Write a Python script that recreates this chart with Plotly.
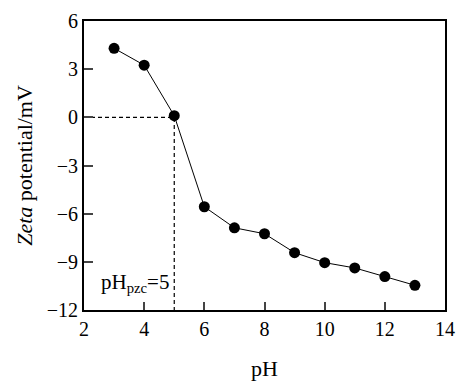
import plotly.graph_objects as go

ph = [3, 4, 5, 6, 7, 8, 9, 10, 11, 12, 13]
zeta = [4.3, 3.25, 0.1, -5.57, -6.88, -7.25, -8.43, -9.05, -9.38, -9.92, -10.46]
x_ticks = [2, 4, 6, 8, 10, 12, 14]
y_ticks = [-12, -9, -6, -3, 0, 3, 6]
ph_pzc = 5

font = dict(family="Liberation Serif", color="black")

fig = go.Figure()
fig.add_trace(go.Scatter(
    x=ph, y=zeta, mode="lines+markers",
    line=dict(color="black", width=1),
    marker=dict(color="black", size=11),
    showlegend=False,
))
# dashed guides for pH_pzc
fig.add_trace(go.Scatter(
    x=[2, ph_pzc, ph_pzc], y=[0, 0, -12], mode="lines",
    line=dict(color="black", width=1.2, dash="4px,3px"),
    showlegend=False, hoverinfo="skip",
))

fig.add_annotation(
    x=ph_pzc, y=-10.3, xref="x", yref="y", xanchor="right", yanchor="middle",
    xshift=-3, showarrow=False,
    text="pH<sub>pzc</sub>=5", font=dict(size=21, **font),
)

fig.update_xaxes(
    range=[2, 14], tickvals=x_ticks, ticks="inside", ticklen=8, tickwidth=1.8,
    showline=True, linecolor="black", linewidth=2, mirror=True,
    showgrid=False, zeroline=False, automargin=False,
    tickfont=dict(size=20, **font),
    title=dict(text="pH", font=dict(size=22, **font), standoff=22),
)
fig.update_yaxes(
    range=[-12, 6], tickvals=y_ticks, ticks="inside", ticklen=9, tickwidth=1.8,
    showline=True, linecolor="black", linewidth=2, mirror=True,
    showgrid=False, zeroline=False, automargin=False,
    tickfont=dict(size=20, **font),
    title=dict(text="<i>Zeta</i> potential/mV", font=dict(size=22, **font), standoff=8),
)
# page body has an 8px margin, so the figure is offset by 8px
fig.update_layout(
    width=461, height=375,
    margin=dict(l=76, r=24, t=13, b=73),
    paper_bgcolor="white", plot_bgcolor="white",
    font=font,
)
fig.write_html("out.html")
